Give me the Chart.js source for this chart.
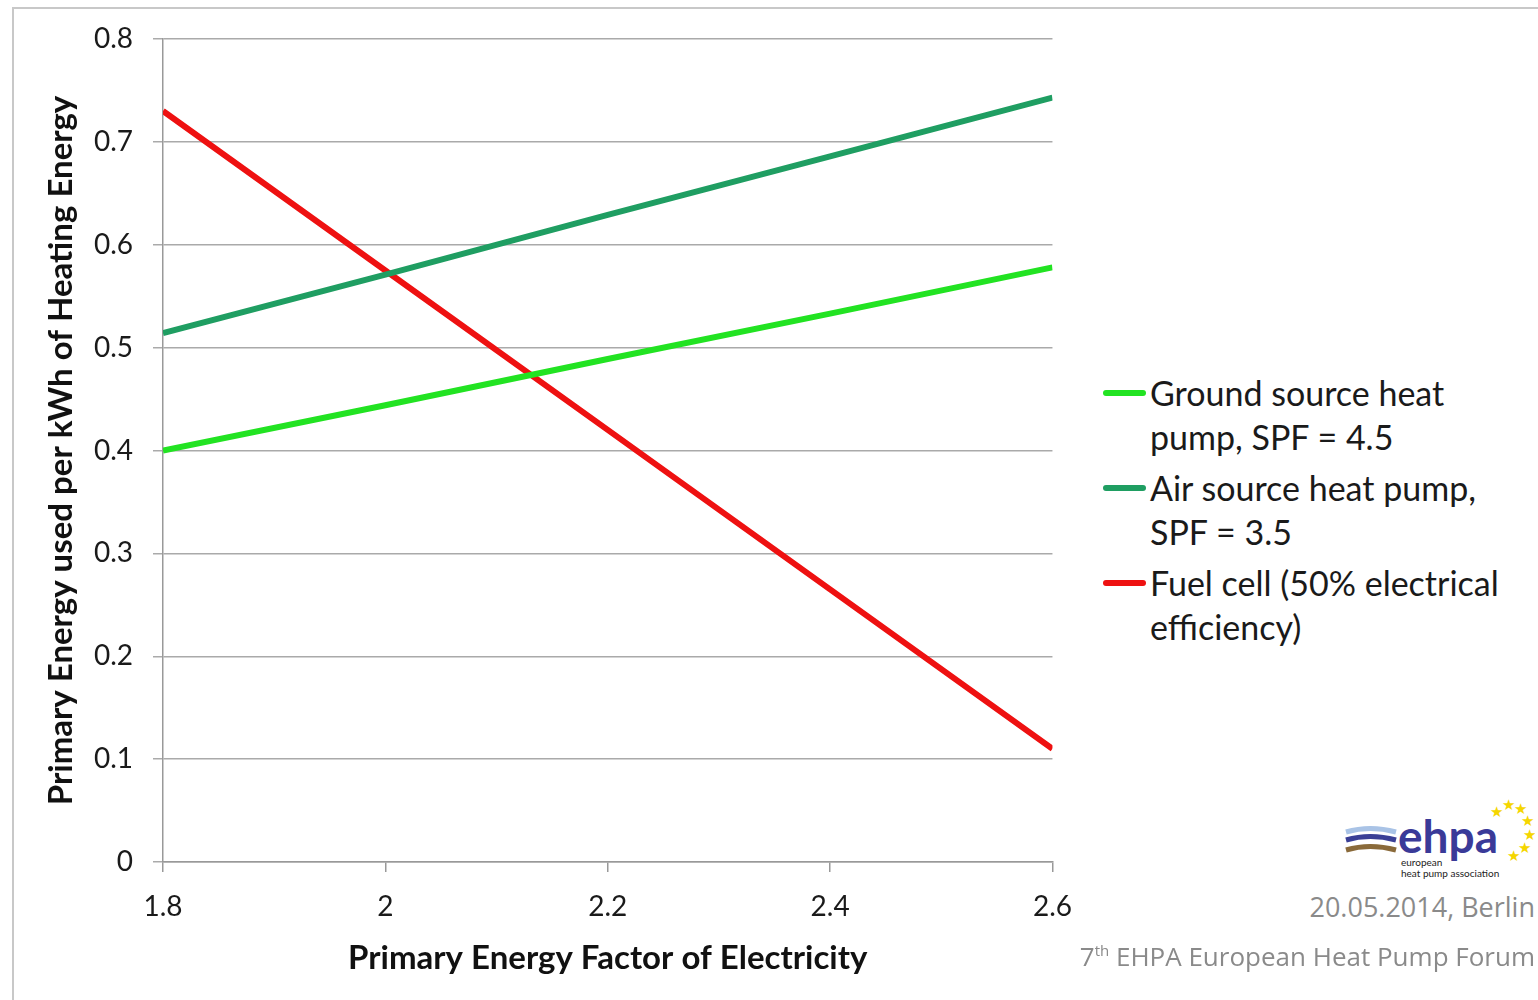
<!DOCTYPE html>
<html>
<head>
<meta charset="utf-8">
<script src="https://cdn.jsdelivr.net/npm/chart.js@4.4.1/dist/chart.umd.min.js"></script>
<style>
  body { margin: 0; background: #fff; font-family: Lato, sans-serif; }
  #frame { position: absolute; left: 12px; top: 7px; width: 1530px; height: 1000px;
           border-top: 2px solid #c8c8c8; border-left: 2px solid #c8c8c8; }
  #energyChart { position: absolute; left: 0; top: 0; }
  #legend { position: absolute; left: 1103px; top: 371px; color: #1a1a1a; font-size: 34px; line-height: 44px; }
  .item { position: relative; padding-left: 47px; margin-bottom: 7px; white-space: nowrap; }
  .swatch { position: absolute; left: 0; top: 19px; width: 43px; height: 6px; border-radius: 3px; }
  .foot { position: absolute; right: 3px; color: #8a8a8a; font-family: "Open Sans", sans-serif; }
  #logo { position: absolute; left: 1340px; top: 795px; }
</style>
</head>
<body>
<div id="frame"></div>
<canvas id="energyChart" width="1090" height="1000"></canvas>
<div id="legend"></div>
<svg id="logo" width="195" height="90">
  <path d="M6 37 Q30 30 56 37" stroke="#a9c3e6" stroke-width="5" fill="none"/>
  <path d="M6 45 Q30 38 56 45" stroke="#3a3f96" stroke-width="5" fill="none"/>
  <path d="M6 55 Q30 48 56 55" stroke="#8a6a3a" stroke-width="5" fill="none"/>
  <text x="58" y="58" font-family="Lato" font-weight="bold" font-size="46" fill="#3a3a98">ehpa</text>
  <text x="61" y="71" font-family="Lato" font-size="10" fill="#222">european</text>
  <text x="61" y="82" font-family="Lato" font-size="10" fill="#222">heat pump association</text>
  <g fill="#f5d600" font-size="15" font-family="DejaVu Sans">
    <text x="150" y="22">★</text><text x="162" y="15">★</text><text x="174" y="19">★</text>
    <text x="181" y="31">★</text><text x="183" y="45">★</text><text x="178" y="58">★</text>
    <text x="167" y="66">★</text>
  </g>
</svg>
<div class="foot" style="top: 888px; font-size: 27px;">20.05.2014, Berlin</div>
<div class="foot" style="top: 938px; font-size: 26px;">7<sup style="font-size: 15px;">th</sup> EHPA European Heat Pump Forum</div>
<script>
const pefValues = [1.8, 2.0, 2.2, 2.4, 2.6];
const groundSource = [0.400, 0.444, 0.489, 0.533, 0.578];
const airSource = [0.514, 0.571, 0.629, 0.686, 0.743];
const fuelCell = [0.730, 0.575, 0.420, 0.265, 0.110];

const seriesLabels = [
  ['Ground source heat', 'pump, SPF = 4.5'],
  ['Air source heat pump,', 'SPF = 3.5'],
  ['Fuel cell (50% electrical', 'efficiency)']
];
const seriesColors = ['#22e322', '#1f9e62', '#ee1111'];
const seriesValues = [groundSource, airSource, fuelCell];

const energyCanvas = document.getElementById("energyChart");

const energyData = {
  datasets: seriesValues.map((vals, i) => ({
    label: seriesLabels[i].join(' '),
    data: vals.map((v, j) => ({x: pefValues[j], y: v})),
    borderColor: seriesColors[i],
    backgroundColor: seriesColors[i],
    borderWidth: 6,
    pointRadius: 0,
    tension: 0
  }))
}

const tickFont = {family: 'Lato', size: 28};
const titleFont = {family: 'Lato', size: 33, weight: 'bold'};
const shortNum = (value) => String(parseFloat(Number(value).toFixed(1)));

const lineOptions = {
  responsive: false,
  animation: false,
  layout: {padding: {left: 0, top: 39, right: 0, bottom: 0}},
  scales: {
    x: {
      type: 'linear',
      min: 1.8,
      max: 2.6,
      ticks: {stepSize: 0.2, color: '#1a1a1a', font: tickFont, padding: 18, callback: shortNum},
      grid: {drawOnChartArea: false, color: '#999', tickLength: 10, lineWidth: 1.5},
      border: {color: '#999', width: 1.5},
      title: {display: true, text: 'Primary Energy Factor of Electricity', color: '#111', font: titleFont, padding: {top: 0, bottom: 22}},
      afterFit: (scale) => { scale.height = 138; }
    },
    y: {
      min: 0,
      max: 0.8,
      ticks: {stepSize: 0.1, color: '#1a1a1a', font: tickFont, padding: 20, callback: shortNum},
      grid: {color: '#aaa', tickLength: 10, lineWidth: 1.5},
      border: {color: '#999', width: 1.5},
      title: {display: true, text: 'Primary Energy used per kWh of Heating Energy', color: '#111', font: titleFont, padding: {top: 42}},
      afterFit: (scale) => { scale.width = 163; }
    }
  },
  plugins: {
    legend: {display: false},
    tooltip: {enabled: false}
  }
}

let energyChart = new Chart(energyCanvas, {type: 'line', data: energyData, options: lineOptions})

// legend with wrapped labels
const legendBox = document.getElementById("legend");
seriesLabels.forEach((lines, i) => {
  const item = document.createElement('div');
  item.className = 'item';
  item.innerHTML = '<span class="swatch" style="background:' + seriesColors[i] + '"></span>' + lines.join('<br>');
  legendBox.appendChild(item);
});
</script>
</body>
</html>
